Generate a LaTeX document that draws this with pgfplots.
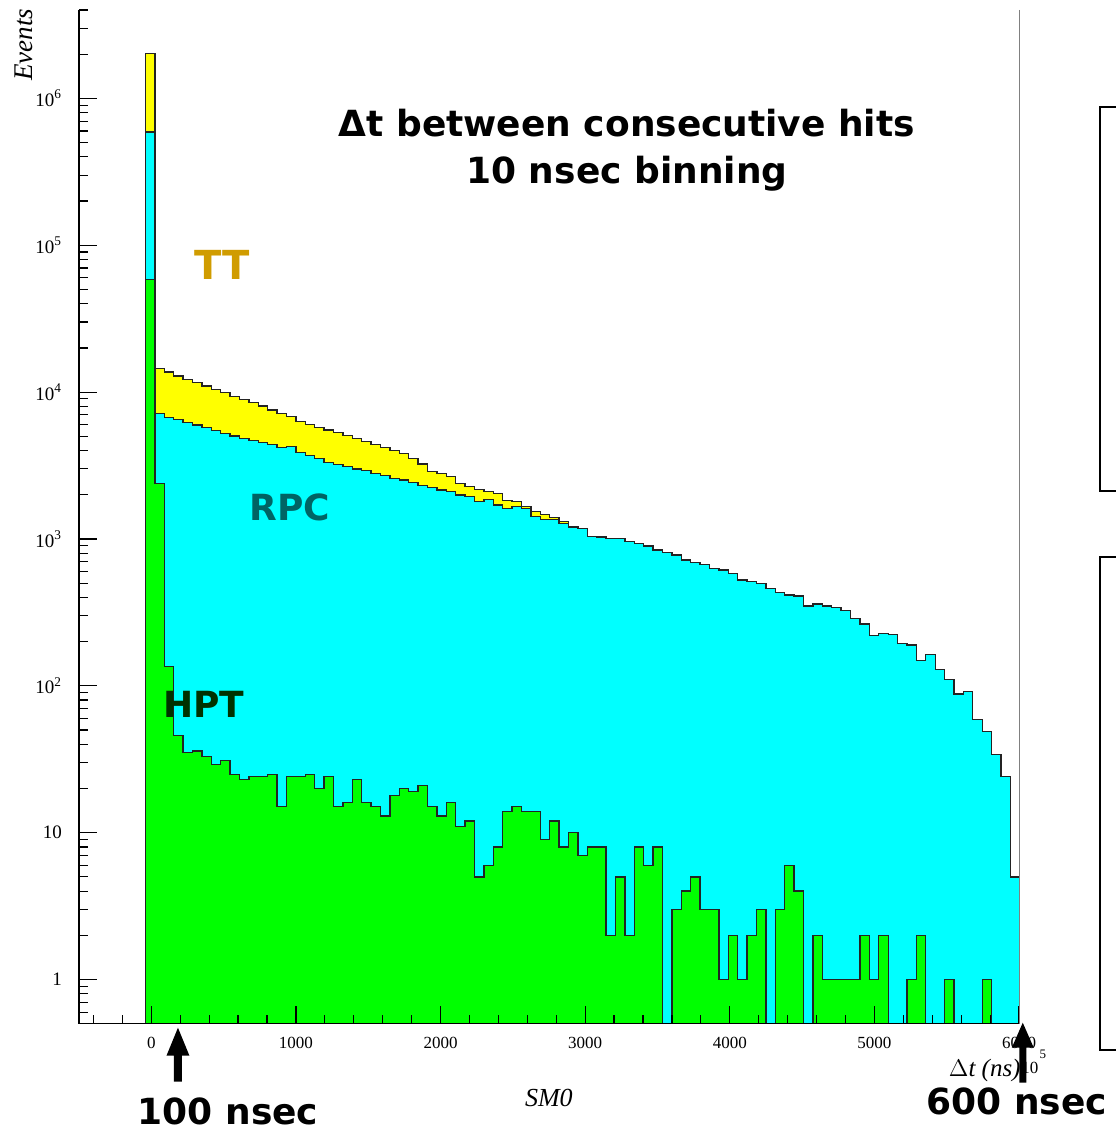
\documentclass[border=0pt]{standalone}
\usepackage{fontspec}
\setmainfont{Liberation Serif}
\newfontfamily\annfont{DejaVu Sans}
\usepackage{pgfplots}
\pgfplotsset{compat=1.18}
\usepackage{pgfplotstable}

\definecolor{ttfill}{RGB}{255,255,0}
\definecolor{rpcfill}{RGB}{0,255,255}
\definecolor{hptfill}{RGB}{0,255,0}
\definecolor{ttlabel}{RGB}{208,156,0}
\definecolor{rpclabel}{RGB}{0,100,100}
\definecolor{hptlabel}{RGB}{0,50,0}
\definecolor{edge}{RGB}{35,35,35}

% Delta-t between consecutive hits, SM0; one row per bin (left edge),
% last row closes the final bin.  tt = TT, rpc = RPC, hpt = HPT counts.
\pgfplotstableread{
x     tt       rpc     hpt
-40   2030000  590000  58400
25    14500    7160    2390
90    13700    6730    135
155   12900    6520    46
220   12200    6180    35
285   11600    5970    36
350   11000    5750    33
415   10400    5460    29
480   9890     5200    31
545   9290     5020    25
610   8910     4840    23
675   8450     4690    24
740   8040     4520    24
805   7550     4410    25
870   7160     4180    15
935   6790     4250    24
1000  6280     3860    24
1065  6030     3720    25
1130  5750     3540    20
1195  5510     3300    24
1260  5280     3220    15
1325  5090     3100    16
1390  4840     2990    23
1455  4590     2940    16
1520  4410     2800    15
1585  4210     2700    13
1650  3990     2590    18
1715  3830     2520    20
1780  3550     2430    19
1845  3240     2320    21
1910  2870     2230    15
1975  2790     2150    13
2040  2650     2100    16
2105  2390     1990    11
2170  2270     1940    12
2235  2160     1790    5
2300  2100     1860    6
2365  2050     1700    8
2430  1820     1620    14
2495  1790     1670    15
2560  1660     1620    14
2625  1530     1420    14
2690  1460     1350    9
2755  1400     1350    12
2820  1310     1280    8
2885  1210     1200    10
2950  1180     1180    7
3015  1040     1040    8
3080  1030     1030    8
3145  1010     1010    2
3210  1010     1010    5
3275  960      960     2
3340  935      935     8
3405  895      895     6
3470  840      840     8
3535  807      807     0
3600  778      778     3
3665  720      720     4
3730  695      695     5
3795  673      673     3
3860  631      631     3
3925  615      615     1
3990  583      583     2
4055  526      526     1
4120  512      512     2
4185  499      499     3
4250  461      461     0
4315  432      432     3
4380  416      416     6
4445  409      409     4
4510  350      350     0
4575  361      361     2
4640  350      350     1
4705  341      341     1
4770  325      325     1
4835  288      288     1
4900  264      264     2
4965  219      219     1
5030  228      228     2
5095  224      224     0
5160  195      195     0
5225  190      190     1
5290  148      148     2
5355  164      164     0
5420  129      129     0
5485  111      111     1
5550  88       88      0
5615  91       91      0
5680  59       59      0
5745  49       49      1
5810  34       34      0
5875  24       24      0
5940  5        5       0
6005  5        5       0
}\hist

\begin{document}
\begin{tikzpicture}
% page frame, 1 unit = 0.5pt, y running downwards
\begin{scope}[x=0.5pt, y=-0.5pt, yshift=566pt]
  \path[use as bounding box] (0,0) rectangle (1115,1132);
\end{scope}

\begin{axis}[
  at={(39.5pt,54pt)}, anchor=south west,
  scale only axis, width=470.5pt, height=507pt,
  xmin=-500, xmax=6005, ymin=0.5, ymax=4e6,
  ymode=log, log origin y=infty,
  axis x line*=bottom, axis y line*=left,
  axis line style={black, line width=0.7pt},
  axis on top,
  tick align=inside,
  xtick={0,1000,2000,3000,4000,5000,6000},
  xticklabels={0,1000,2000,3000,4000,5000,6000},
  minor xtick={-400,-200,...,5800},
  ytick={1,10,100,1000,10000,100000,1000000},
  yticklabels={1,10,10\textsuperscript{2},10\textsuperscript{3},10\textsuperscript{4},10\textsuperscript{5},10\textsuperscript{6}},
  minor ytick={0.6,0.7,0.8,0.9,2,3,4,5,6,7,8,9,20,30,40,50,60,70,80,90,
    200,300,400,500,600,700,800,900,2000,3000,4000,5000,6000,7000,8000,9000,
    20000,30000,40000,50000,60000,70000,80000,90000,
    200000,300000,400000,500000,600000,700000,800000,900000,2000000,3000000,4000000},
  major tick length=9pt, minor tick length=4.5pt,
  tick style={black, line width=0.6pt},
  xticklabel style={font=\fontsize{8.5}{10}\selectfont, yshift=-3pt},
  yticklabel style={font=\fontsize{9.5}{11}\selectfont, xshift=-5pt},
  clip=true,
]
  \addplot[const plot, fill=ttfill, draw=edge, line width=0.65pt]
    table[x=x, y=tt] {\hist} \closedcycle;
  \addplot[const plot, fill=rpcfill, draw=edge, line width=0.65pt]
    table[x=x, y=rpc] {\hist} \closedcycle;
  \addplot[const plot, fill=hptfill, draw=edge, line width=0.65pt]
    table[x=x, y expr={max(\thisrow{hpt},0.1)}] {\hist} \closedcycle;
\end{axis}

\begin{scope}[x=0.5pt, y=-0.5pt, yshift=566pt]
  % right frame
  \draw[gray, line width=0.7pt] (1020,10) -- (1020,1024);
  % side panels, running off the right edge
  \draw[black, line width=0.8pt] (1116,107) -- (1100,107) -- (1100,491) -- (1116,491);
  \draw[black, line width=0.8pt] (1116,557) -- (1100,557) -- (1100,1050) -- (1116,1050);

  % axis titles
  \node[rotate=90, font=\fontsize{13.5}{15}\selectfont\itshape] at (24,45) {Events};
  \node[font=\fontsize{13}{15}\selectfont\itshape] at (549,1098) {SM0};
  \node[font=\fontsize{12.5}{15}\selectfont\itshape] at (985,1071) {$\Delta$t (ns)};
  \node[font=\fontsize{8.5}{10}\selectfont] at (1030,1068) {10};
  \node[font=\fontsize{6.5}{8}\selectfont] at (1043,1055) {5};

  % headline
  \node[font=\annfont\bfseries\fontsize{18}{22}\selectfont] at (627,123) {Δt between consecutive hits};
  \node[font=\annfont\bfseries\fontsize{18}{22}\selectfont] at (627,174) {10 nsec binning};

  % series names
  \node[font=\annfont\bfseries\fontsize{20}{24}\selectfont, text=ttlabel] at (222,265) {TT};
  \node[font=\annfont\bfseries\fontsize{18}{22}\selectfont, text=rpclabel] at (290,508) {RPC};
  \node[font=\annfont\bfseries\fontsize{18}{22}\selectfont, text=hptlabel] at (204,705) {HPT};

  % markers below the axis
  \fill[black] (174,1082) -- (174,1056) -- (166.5,1056) -- (178,1028)
    -- (189.5,1056) -- (182,1056) -- (182,1082) -- cycle;
  \node[font=\annfont\bfseries\fontsize{18}{22}\selectfont] at (228,1112) {100 nsec};
  \fill[black] (1019.5,1083) -- (1019.5,1048) -- (1012,1048) -- (1023,1023)
    -- (1034,1048) -- (1026.5,1048) -- (1026.5,1083) -- cycle;
  \node[font=\annfont\bfseries\fontsize{18}{22}\selectfont] at (1017,1102) {600 nsec};
\end{scope}
\end{tikzpicture}
\end{document}
